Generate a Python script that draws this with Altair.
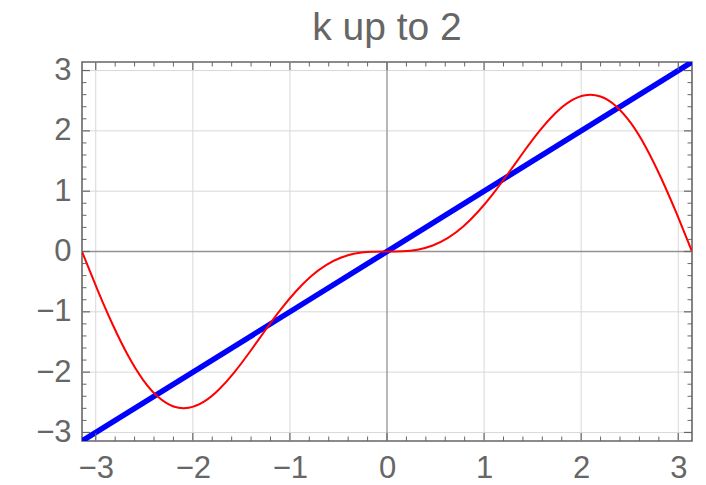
import altair as alt
import pandas as pd

# data
red_x = [-3.142, -2.985, -2.827, -2.670, -2.513, -2.356, -2.199, -2.042, -1.885, -1.728,
         -1.571, -1.414, -1.257, -1.100, -0.942, -0.785, -0.628, -0.471, -0.314, -0.157,
         0.0, 0.157, 0.314, 0.471, 0.628, 0.785, 0.942, 1.100, 1.257, 1.414,
         1.571, 1.728, 1.885, 2.042, 2.199, 2.356, 2.513, 2.670, 2.827, 2.985, 3.142]
red_y = [0.000, -0.622, -1.206, -1.717, -2.127, -2.414, -2.569, -2.591, -2.490, -2.284,
         -2.000, -1.666, -1.314, -0.973, -0.667, -0.414, -0.225, -0.099, -0.030, -0.004,
         0.0, 0.004, 0.030, 0.099, 0.225, 0.414, 0.667, 0.973, 1.314, 1.666,
         2.000, 2.284, 2.490, 2.591, 2.569, 2.414, 2.127, 1.717, 1.206, 0.622, 0.000]
blue_x = [-3.14159, 3.14159]
blue_y = [-3.14159, 3.14159]
major_ticks = [-3, -2, -1, 0, 1, 2, 3]
minor_ticks = [round(i * 0.2, 1) for i in range(-15, 16) if i % 5 != 0]
grid_vals = [-3, -2, -1, 1, 2, 3]
zero_vals = [0]
title_text = "k up to 2"

W, H = 610, 379
PI = 3.14159265
FONT = "Liberation Sans"
GRAY = "#666666"
LBL = 31

xs = alt.Scale(domain=[-PI, PI], nice=False, zero=False)
ys = alt.Scale(domain=[-PI, PI], nice=False, zero=False)
ax_x = alt.Axis(values=major_ticks, title=None, grid=False, ticks=False, domain=False,
                labelFontSize=LBL, labelColor=GRAY, labelFont=FONT, labelPadding=12)
ax_y = alt.Axis(values=major_ticks, title=None, grid=False, ticks=False, domain=False,
                labelFontSize=LBL, labelColor=GRAY, labelFont=FONT, labelPadding=11)

red_df = pd.DataFrame({"x": red_x, "y": red_y})
blue_df = pd.DataFrame({"x": blue_x, "y": blue_y})
grid_df = pd.DataFrame({"v": grid_vals})
zero_df = pd.DataFrame({"v": zero_vals})
maj_df = pd.DataFrame({"v": major_ticks})
min_df = pd.DataFrame({"v": minor_ticks})


def vrules(df, color, width, y, y2):
    return alt.Chart(df).mark_rule(color=color, strokeWidth=width).encode(
        x=alt.X("v:Q", scale=xs, axis=ax_x), y=alt.value(y), y2=alt.value(y2))


def hrules(df, color, width, x, x2):
    return alt.Chart(df).mark_rule(color=color, strokeWidth=width).encode(
        y=alt.Y("v:Q", scale=ys, axis=ax_y), x=alt.value(x), x2=alt.value(x2))


base = alt.Chart(blue_df).mark_line(color="#0000ff", strokeWidth=5.5, clip=True).encode(
    x=alt.X("x:Q", scale=xs, axis=ax_x), y=alt.Y("y:Q", scale=ys, axis=ax_y))

red = alt.Chart(red_df).mark_line(color="#ff0000", strokeWidth=2, interpolate="natural",
                                  clip=True).encode(
    x=alt.X("x:Q", scale=xs, axis=ax_x), y=alt.Y("y:Q", scale=ys, axis=ax_y))

MAJ, MIN = 8, 4.5
layers = [
    vrules(grid_df, "#d8d8d8", 1, 0, H),
    hrules(grid_df, "#d8d8d8", 1, 0, W),
    vrules(zero_df, "#929292", 1.3, 0, H),
    hrules(zero_df, "#929292", 1.3, 0, W),
    base,
    red,
    vrules(maj_df, GRAY, 1.2, H, H - MAJ),
    vrules(maj_df, GRAY, 1.2, 0, MAJ),
    vrules(min_df, GRAY, 1, H, H - MIN),
    vrules(min_df, GRAY, 1, 0, MIN),
    hrules(maj_df, GRAY, 1.2, 0, MAJ),
    hrules(maj_df, GRAY, 1.2, W, W - MAJ),
    hrules(min_df, GRAY, 1, 0, MIN),
    hrules(min_df, GRAY, 1, W, W - MIN),
]

chart = alt.layer(*layers).properties(
    width=W, height=H,
    title=alt.TitleParams(title_text, fontSize=39, color=GRAY, font=FONT, fontWeight="normal",
                          anchor="middle", frame="group", baseline="alphabetic", offset=12,
                          dy=36),
    autosize=alt.AutoSizeParams(type="none"),
    padding={"left": 82, "top": 62, "right": 14, "bottom": 44},
).configure(
    background="white",
    view=alt.ViewConfig(stroke="#666666", strokeWidth=1.6),
)

chart.save("out.html", embed_options={"renderer": "svg", "actions": False})
